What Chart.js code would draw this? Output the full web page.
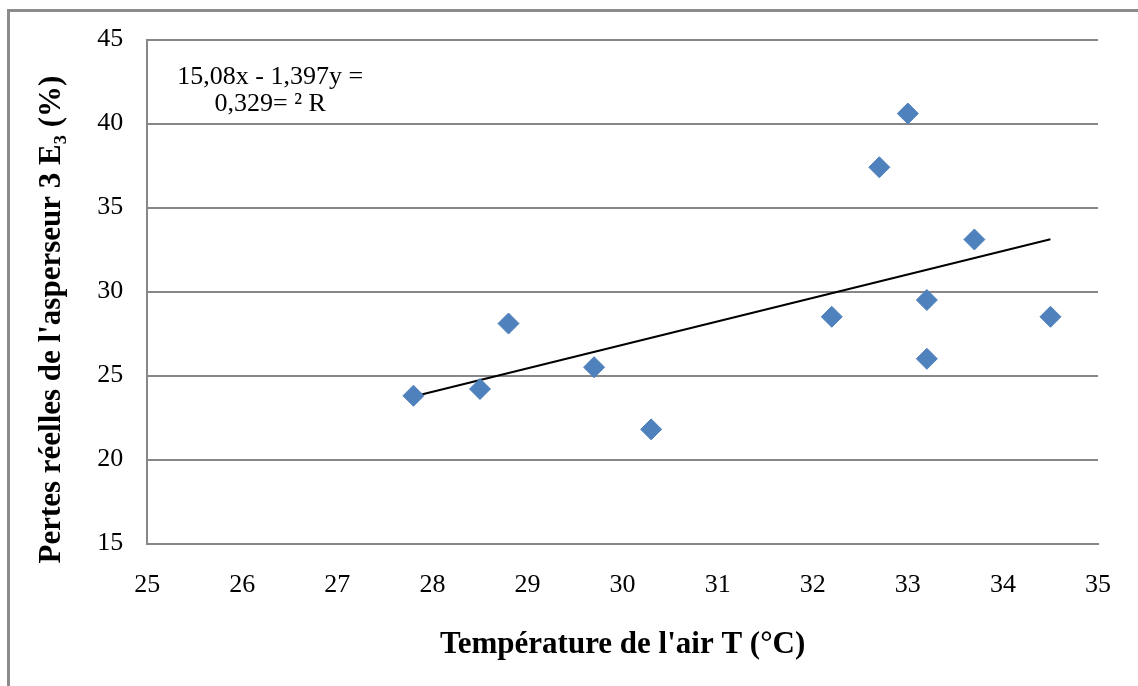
<!DOCTYPE html>
<html>
<head>
<meta charset="utf-8">
<script src="https://cdn.jsdelivr.net/npm/chart.js@4"></script>
<style>
  html, body { margin: 0; padding: 0; background: #fff; }
  canvas { display: block; }
</style>
</head>
<body>
<canvas id="lossChart" width="1138" height="686"></canvas>
<script>
// air temperature (°C) and measured losses (%)
const temps = [27.8, 28.5, 28.8, 29.7, 30.3, 32.2, 32.7, 33.0, 33.2, 33.2, 33.7, 34.5];
const losses = [23.8, 24.2, 28.1, 25.5, 21.8, 28.5, 37.4, 40.6, 29.5, 26.0, 33.1, 28.5];
// linear trend line ends
const trendX = [27.8, 34.5];
const trendY = [23.76, 33.12];
const eqLines = ['15,08x - 1,397y =', '0,329= ² R'];
const yTitle = "Pertes réelles de l'asperseur 3 E₃ (%)";

const gridGray = '#878787';
const serif = '"Liberation Serif", "Times New Roman", serif';

// gray frame around the chart (cut off at right/bottom like the source)
const framePlugin = {
    id: 'frame',
    beforeDraw(chart) {
        const c = chart.ctx;
        c.save();
        c.fillStyle = '#fff';
        c.fillRect(0, 0, chart.width, chart.height);
        c.strokeStyle = '#8c8c8c';
        c.lineWidth = 3;
        c.beginPath();
        c.moveTo(8.5, chart.height);
        c.lineTo(8.5, 10.5);
        c.lineTo(chart.width, 10.5);
        c.stroke();
        c.restore();
    }
};

// trend equation text + y title (Excel puts it a bit lower than the plot centre)
const textPlugin = {
    id: 'texts',
    afterDraw(chart) {
        const c = chart.ctx;
        const a = chart.chartArea;
        c.save();
        c.font = '26px ' + serif;
        c.fillStyle = '#000';
        c.textAlign = 'center';
        c.textBaseline = 'middle';
        c.fillText(eqLines[0], a.left + 123, a.top + 38);
        c.fillText(eqLines[1], a.left + 123, a.top + 65);

        const ys = chart.scales.y;
        c.translate(ys.left + 18.6, (a.top + a.bottom) / 2 + 28);
        c.rotate(-Math.PI / 2);
        c.font = 'bold 31px ' + serif;
        c.fillText(yTitle, 0, 0);
        c.restore();
    }
};

const pts = temps.map((t, i) => ({ x: t, y: losses[i] }));
const trend = trendX.map((t, i) => ({ x: t, y: trendY[i] }));

new Chart(document.getElementById('lossChart').getContext('2d'), {
    type: 'scatter',
    data: {
        datasets: [{
            label: 'Pertes',
            data: pts,
            pointStyle: 'rectRot',
            pointRadius: 10.5,
            pointHoverRadius: 10.5,
            backgroundColor: '#4f81bd',
            borderColor: '#4f81bd',
            borderWidth: 1
        }, {
            label: 'Tendance',
            type: 'line',
            data: trend,
            borderColor: '#000',
            borderWidth: 2,
            pointRadius: 0,
            fill: false
        }]
    },
    options: {
        responsive: false,
        animation: false,
        layout: { padding: { left: 33, right: 40, top: 39, bottom: 22 } },
        scales: {
            x: {
                type: 'linear',
                min: 25,
                max: 35,
                ticks: {
                    stepSize: 1,
                    padding: 26,
                    color: '#000',
                    font: { family: serif, size: 26 }
                },
                grid: { display: false, drawTicks: false },
                border: { display: true, color: gridGray, width: 2 },
                title: {
                    display: true,
                    text: "Température de l'air T (°C)",
                    color: '#000',
                    padding: { top: 0, bottom: 0 },
                    font: { family: serif, size: 31, weight: 'bold' }
                }
            },
            y: {
                min: 15,
                max: 45,
                ticks: {
                    stepSize: 5,
                    padding: 24,
                    color: '#000',
                    font: { family: serif, size: 26 }
                },
                grid: { color: gridGray, lineWidth: 2, drawTicks: false },
                border: { display: true, color: gridGray, width: 2 },
                // title kept for spacing only, drawn by the plugin
                title: {
                    display: true,
                    text: yTitle,
                    color: 'rgba(0,0,0,0)',
                    padding: { top: 0, bottom: 3 },
                    font: { family: serif, size: 31, weight: 'bold' }
                }
            }
        },
        plugins: {
            legend: { display: false },
            tooltip: { enabled: false }
        }
    },
    plugins: [framePlugin, textPlugin]
});
</script>
</body>
</html>
